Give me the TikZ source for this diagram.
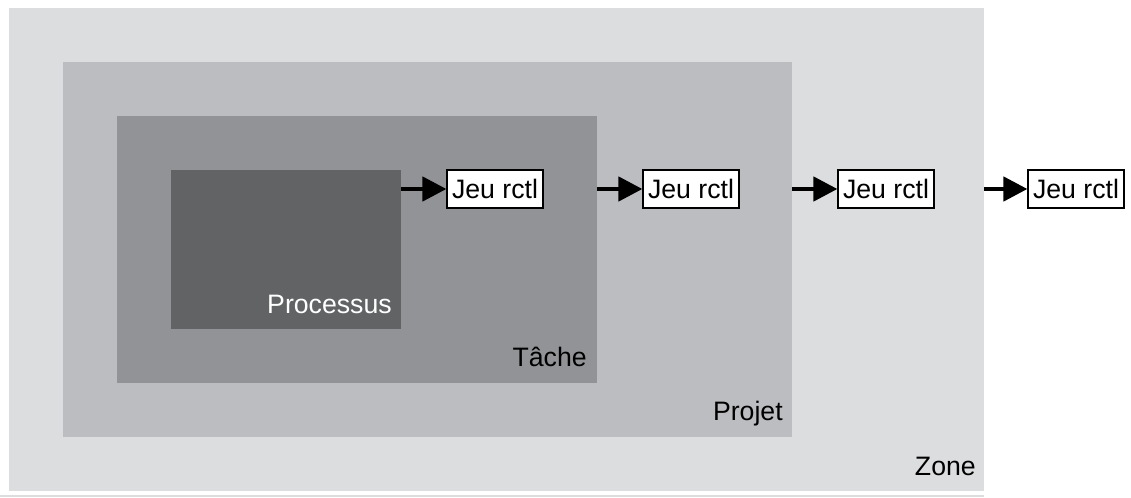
\documentclass[tikz,border=0pt]{standalone}
\usepackage{fontspec}
\setmainfont{Liberation Sans}
\usetikzlibrary{arrows.meta,fit}
\definecolor{zonec}{HTML}{DCDDDF}
\definecolor{projc}{HTML}{BCBDC1}
\definecolor{tachec}{HTML}{929397}
\definecolor{procc}{HTML}{626365}
\tikzset{
  region/.style={inner sep=0pt, outer sep=0pt, draw=none},
  rctl/.style={draw=black, fill=white, line width=1.1pt, inner sep=0pt,
    minimum width=72pt, minimum height=28.5pt, font=\fontsize{20}{24}\selectfont},
  lbl/.style={anchor=base east, inner sep=0pt, font=\fontsize{20}{24}\selectfont},
  flow/.style={line width=2.3pt, -{Triangle[length=18pt,width=18.5pt]}, shorten >=0pt}
}
\begin{document}
\begin{tikzpicture}[x=0.75pt,y=-0.75pt]
\useasboundingbox (0,0) rectangle (1131,498);
\fill[white] (0,0) rectangle (1131,498);
\node[region, fill=zonec, fit={(9,8) (984,491)}] (zone) {};
\node[region, fill=projc, fit={(63,62) (792,437)}] (proj) {};
\node[region, fill=tachec, fit={(117,116) (597,383)}] (tache) {};
\node[region, fill=procc, fit={(171,170) (401,329)}] (proc) {};
\draw[zonec, line width=1.5pt] (0,496) -- (zone.south east |- 0,496);

\node[lbl, text=white] (lproc) at (392,314) {Processus};
\node[lbl] (ltache) at (587,367) {Tâche};
\node[lbl] (lproj) at (783,421) {Projet};
\node[lbl] (lzone) at (976,475) {Zone};

\node[rctl] (j1) at (495,189) {Jeu rctl};
\node[rctl] (j2) at (691,189) {Jeu rctl};
\node[rctl] (j3) at (886,189) {Jeu rctl};
\node[rctl] (j4) at (1076,189) {Jeu rctl};

\draw[flow] (proc.east |- j1.west) -- (j1.west);
\draw[flow] (tache.east |- j2.west) -- (j2.west);
\draw[flow] (proj.east |- j3.west) -- (j3.west);
\draw[flow] (zone.east |- j4.west) -- (j4.west);
\end{tikzpicture}
\end{document}
